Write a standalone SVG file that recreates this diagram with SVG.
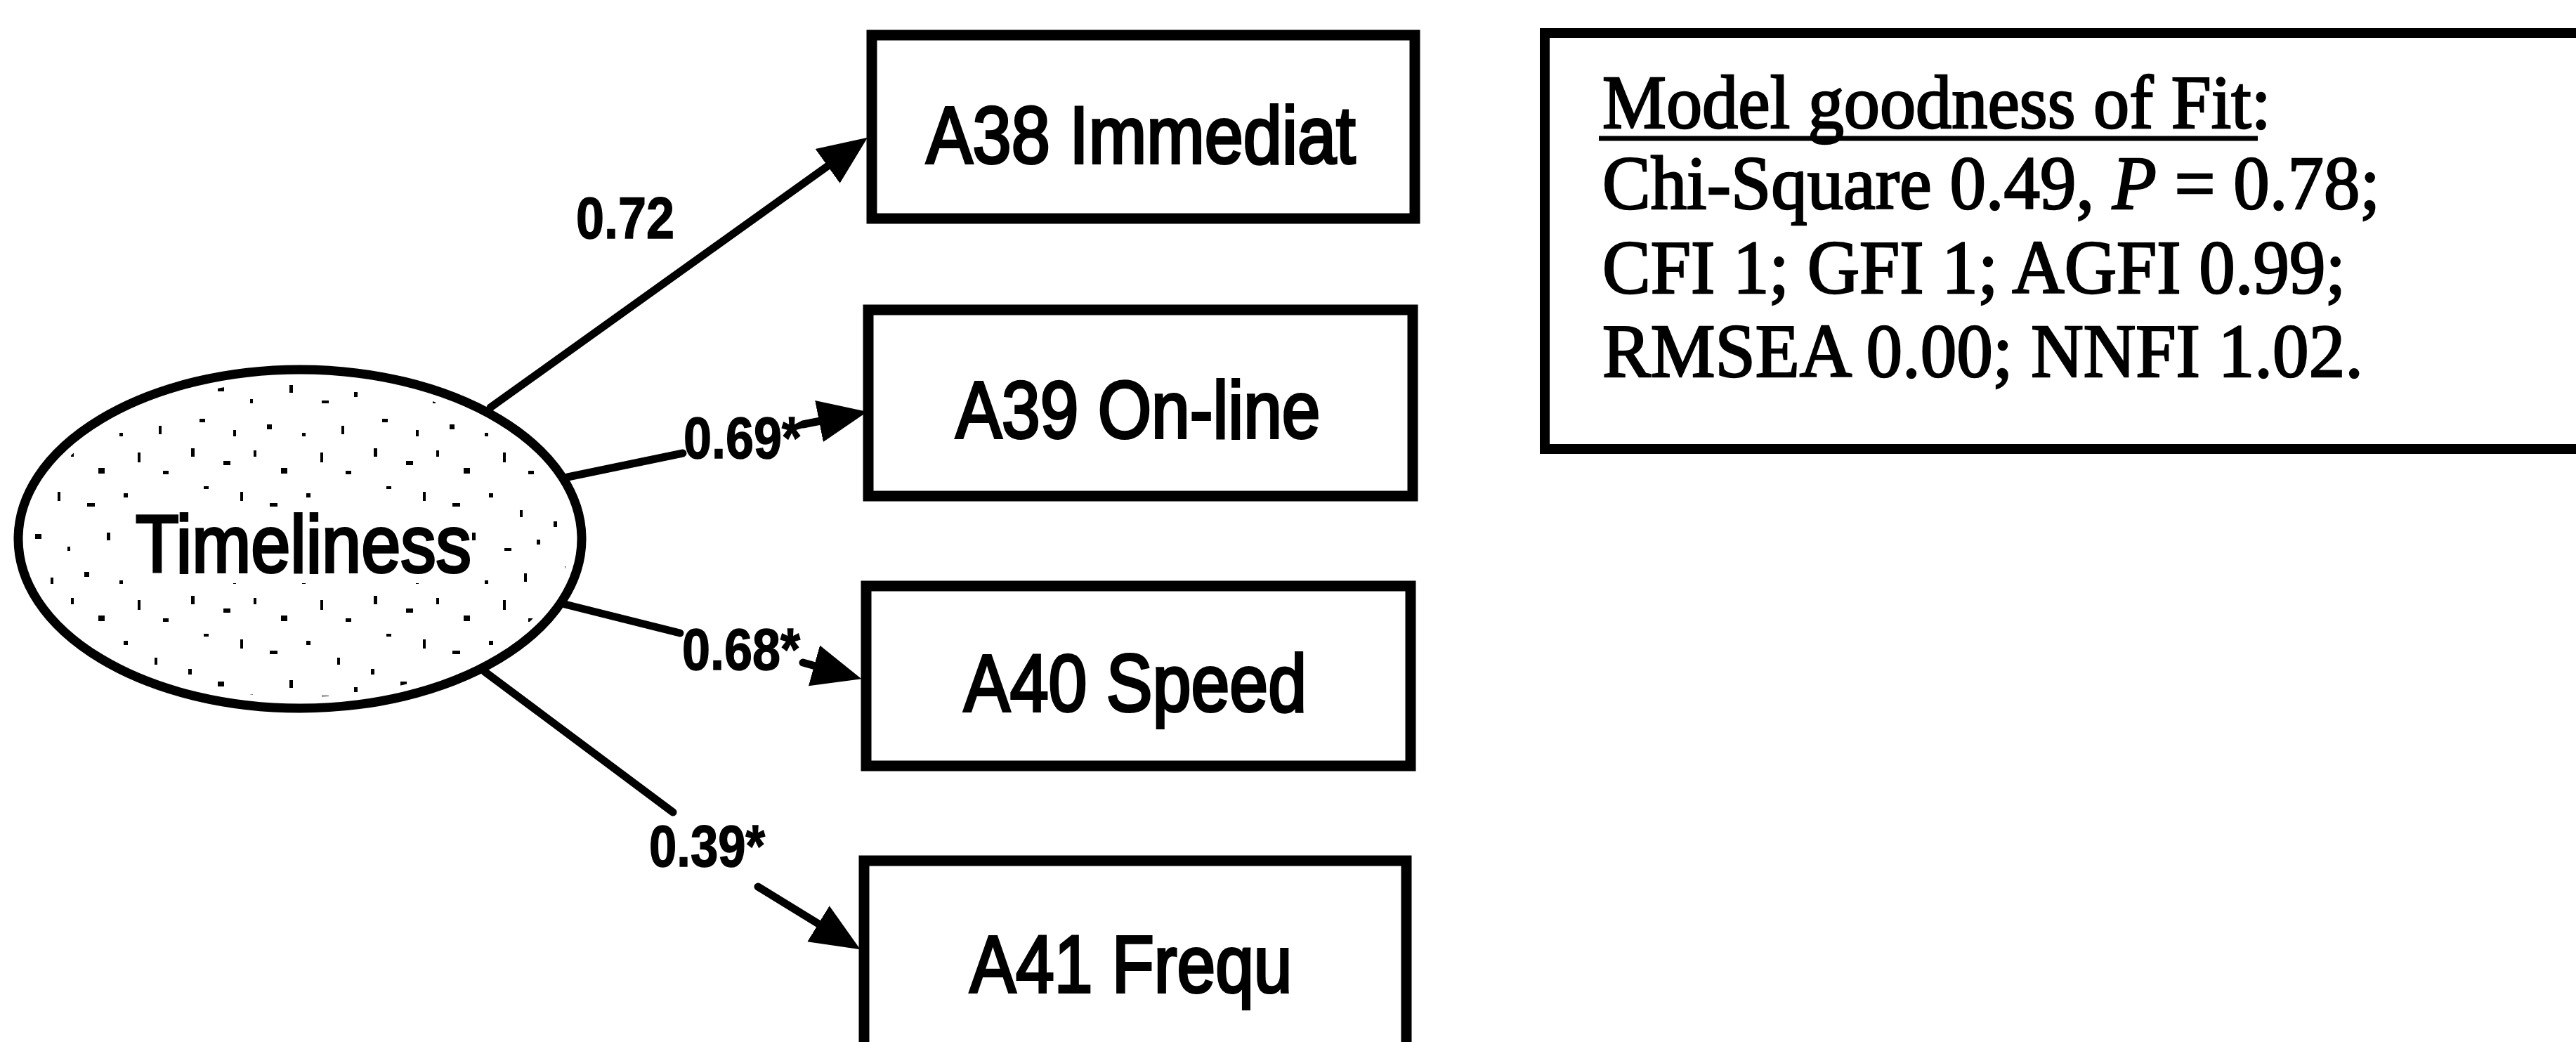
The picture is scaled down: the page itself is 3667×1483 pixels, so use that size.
<svg xmlns="http://www.w3.org/2000/svg" width="3667" height="1483" viewBox="0 0 3667 1483">
  <style>
    .frame { fill: none; stroke: #000; stroke-width: 15; }
    .item { font-family: "Liberation Sans", Arial, sans-serif; font-size: 115px; fill: #000; stroke: #000; stroke-width: 4; text-anchor: middle; }
    .coef { font-family: "Liberation Sans", Arial, sans-serif; font-size: 84px; font-weight: bold; fill: #000; stroke: #000; stroke-width: 1.5; }
    .path { fill: none; stroke: #000; stroke-width: 11; stroke-linecap: round; }
    .fit { font-family: "Liberation Serif", "Times New Roman", serif; font-size: 107px; fill: #000; stroke: #000; stroke-width: 2.5; }
    .speck { fill: #000; }
  </style>
  <defs>
    <marker id="head" markerUnits="userSpaceOnUse" viewBox="0 -32 70 64" markerWidth="70" markerHeight="64" refX="54" refY="0" orient="auto">
      <path d="M0,-30 L70,0 L0,30 Z" fill="#000"/>
    </marker>
    <!-- stipple texture of the latent variable -->
    <pattern id="stipple" patternUnits="userSpaceOnUse" width="260" height="210">
      <rect class="speck" x="12" y="8" width="5" height="12"/>
      <rect class="speck" x="58" y="26" width="10" height="6"/>
      <rect class="speck" x="101" y="11" width="4" height="9"/>
      <rect class="speck" x="140" y="36" width="9" height="8"/>
      <rect class="speck" x="196" y="14" width="4" height="14"/>
      <rect class="speck" x="232" y="40" width="8" height="5"/>
      <rect class="speck" x="30" y="62" width="7" height="4"/>
      <rect class="speck" x="82" y="70" width="4" height="13"/>
      <rect class="speck" x="124" y="86" width="11" height="5"/>
      <rect class="speck" x="176" y="72" width="6" height="6"/>
      <rect class="speck" x="220" y="96" width="4" height="10"/>
      <rect class="speck" x="8" y="112" width="5" height="8"/>
      <rect class="speck" x="50" y="130" width="9" height="7"/>
      <rect class="speck" x="96" y="148" width="4" height="6"/>
      <rect class="speck" x="152" y="128" width="5" height="11"/>
      <rect class="speck" x="198" y="150" width="10" height="4"/>
      <rect class="speck" x="244" y="138" width="5" height="7"/>
      <rect class="speck" x="24" y="176" width="8" height="5"/>
      <rect class="speck" x="72" y="192" width="4" height="9"/>
      <rect class="speck" x="120" y="184" width="7" height="7"/>
      <rect class="speck" x="170" y="196" width="5" height="5"/>
      <rect class="speck" x="226" y="186" width="4" height="12"/>
    </pattern>
  </defs>

  <rect x="0" y="0" width="3667" height="1483" fill="#fff"/>

  <!-- latent variable -->
  <g id="timeliness">
    <ellipse cx="427" cy="767" rx="401" ry="241" fill="#fff"/>
    <ellipse cx="427" cy="767" rx="384" ry="225" fill="url(#stipple)"/>
    <ellipse cx="427" cy="767" rx="401" ry="241" fill="none" stroke="#000" stroke-width="13"/>
    <rect x="192" y="724" width="480" height="106" fill="#fff"/>
    <text class="item" x="432" y="814" textLength="478" lengthAdjust="spacingAndGlyphs">Timeliness</text>
  </g>

  <!-- observed indicators -->
  <g id="a38">
    <rect class="frame" x="1241" y="50" width="773" height="261"/>
    <text class="item" x="1624" y="232" textLength="611" lengthAdjust="spacingAndGlyphs">A38 Immediat</text>
  </g>
  <g id="a39">
    <rect class="frame" x="1236" y="441" width="775" height="265"/>
    <text class="item" x="1620" y="623" textLength="519" lengthAdjust="spacingAndGlyphs">A39 On-line</text>
  </g>
  <g id="a40">
    <rect class="frame" x="1233" y="834" width="775" height="256"/>
    <text class="item" x="1616" y="1012" textLength="488" lengthAdjust="spacingAndGlyphs">A40 Speed</text>
  </g>
  <g id="a41">
    <rect class="frame" x="1230" y="1225" width="772" height="320"/>
    <text class="item" x="1610" y="1412" textLength="459" lengthAdjust="spacingAndGlyphs">A41 Frequ</text>
  </g>

  <!-- fit statistics -->
  <g id="fit">
    <rect x="2199" y="47" width="1600" height="592" fill="none" stroke="#000" stroke-width="14"/>
    <text class="fit" x="2281" y="182" textLength="952" lengthAdjust="spacingAndGlyphs">Model goodness of Fit:</text>
    <line x1="2276" y1="197" x2="3214" y2="197" stroke="#000" stroke-width="7"/>
    <text class="fit" x="2281" y="297" textLength="1107" lengthAdjust="spacingAndGlyphs">Chi-Square 0.49, <tspan font-style="italic">P</tspan> = 0.78;</text>
    <text class="fit" x="2281" y="417" textLength="1058" lengthAdjust="spacingAndGlyphs">CFI 1; GFI 1; AGFI 0.99;</text>
    <text class="fit" x="2281" y="536" textLength="1083" lengthAdjust="spacingAndGlyphs">RMSEA 0.00; NNFI 1.02.</text>
  </g>

  <!-- loadings -->
  <g id="connectors">
    <line class="path" x1="698" y1="580" x2="1222" y2="205" marker-end="url(#head)"/>
    <text class="coef" x="820" y="339" textLength="140" lengthAdjust="spacingAndGlyphs">0.72</text>

    <line class="path" x1="808" y1="679" x2="972" y2="645"/>
    <line class="path" x1="1143" y1="604" x2="1219" y2="589" marker-end="url(#head)"/>
    <text class="coef" x="973" y="652" textLength="168" lengthAdjust="spacingAndGlyphs">0.69*</text>

    <line class="path" x1="804" y1="860" x2="968" y2="901"/>
    <line class="path" x1="1143" y1="943" x2="1211" y2="962" marker-end="url(#head)"/>
    <text class="coef" x="971" y="953" textLength="168" lengthAdjust="spacingAndGlyphs">0.68*</text>

    <line class="path" x1="690" y1="956" x2="958" y2="1156"/>
    <line class="path" x1="1079" y1="1262" x2="1211" y2="1343" marker-end="url(#head)"/>
    <text class="coef" x="924" y="1233" textLength="165" lengthAdjust="spacingAndGlyphs">0.39*</text>
  </g>
</svg>
